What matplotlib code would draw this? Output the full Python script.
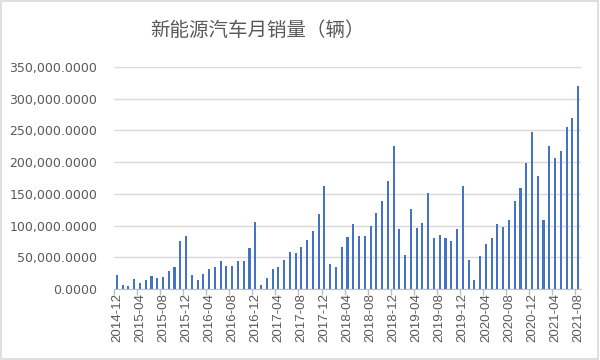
import matplotlib
matplotlib.use("Agg")
import matplotlib.pyplot as plt
from matplotlib.patches import Rectangle
from matplotlib.ticker import FixedLocator, FuncFormatter, NullFormatter

# Month labels 2014-12 .. 2021-08
months = []
y, m = 2014, 12
while (y, m) <= (2021, 8):
    months.append(f"{y}-{m:02d}")
    m += 1
    if m > 12:
        y, m = y + 1, 1

sales = [
    22000, 6000, 5000, 15000, 10000, 14000, 21000, 17000, 18500, 28000, 35000, 76000, 84000,
    22000, 14000, 23000, 32000, 35000, 44000, 36000, 37000, 44000, 44000, 65000, 105000,
    6000, 17000, 31000, 35000, 45000, 59000, 57000, 67000, 77000, 91500, 119000, 163000,
    39000, 35000, 67000, 81500, 102000, 84000, 84000, 100000, 120000, 138000, 170000, 225000,
    95000, 53000, 126000, 96000, 104000, 151500, 80000, 85000, 80000, 75000, 95000, 163000,
    46000, 14000, 52000, 71500, 81000, 102600, 97000, 109000, 138000, 159000, 199000, 248000,
    178000, 109000, 225000, 206000, 217000, 255000, 270000, 320000,
]

title = "新能源汽车月销量（辆）"
ymax = 350000
ystep = 50000

fig = plt.figure(figsize=(6, 3.6), dpi=100)
ax = fig.add_axes([114/600, 71/360, 467/600, 222/360])

xs = list(range(len(sales)))
ax.bar(xs, sales, width=0.36, color="#4472C4", zorder=3)

ax.set_xlim(-0.5, len(sales) - 0.5)
ax.set_ylim(0, ymax)
ax.set_yticks(range(0, ymax + 1, ystep))
ax.yaxis.set_major_formatter(FuncFormatter(lambda v, p: f"{v:,.4f}"))
ax.grid(axis="y", color="#d9d9d9", linewidth=1, zorder=0)

label_idx = list(range(0, len(sales), 4))
ax.xaxis.set_major_locator(FixedLocator([i - 0.5 for i in label_idx]))
ax.xaxis.set_major_formatter(NullFormatter())
ax.xaxis.set_minor_locator(FixedLocator(label_idx))
ax.set_xticklabels([months[i] for i in label_idx], minor=True, rotation=90,
                   fontsize=9.5, color="#595959", family="Liberation Sans")
ax.tick_params(axis="x", which="major", length=4, color="#bfbfbf", width=1)
ax.tick_params(axis="x", which="minor", length=0, pad=3)
ax.tick_params(axis="y", length=0, labelsize=9, labelcolor="#595959", pad=12)

for s in ["top", "right", "left"]:
    ax.spines[s].set_visible(False)
ax.spines["bottom"].set_color("#bfbfbf")
ax.spines["bottom"].set_zorder(4)

fig.text(257/600, 1 - 31/360, title, ha="center", va="center", fontsize=14,
         color="#595959", family=["Noto Sans CJK SC", "DejaVu Sans"])

fig.patches.append(Rectangle((0.002, 0.003), 0.995, 0.994, transform=fig.transFigure,
                             fill=False, edgecolor="#d9d9d9", linewidth=1.2))

fig.savefig("out.png", dpi=100)
